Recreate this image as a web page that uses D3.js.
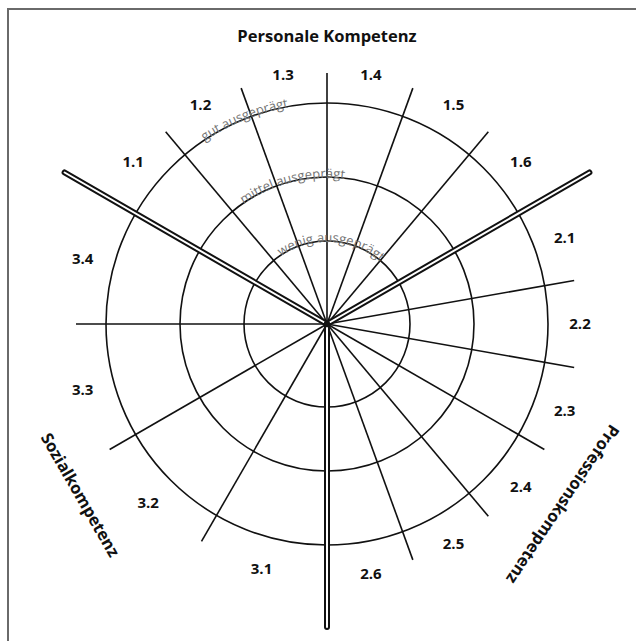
<!DOCTYPE html>
<html>
<head>
<meta charset="utf-8">
<script src="https://cdn.jsdelivr.net/npm/d3@7/dist/d3.min.js"></script>
<style>
  html, body { margin: 0; padding: 0; background: #fff; }
  svg { display: block; font-family: "Open Sans", "DejaVu Sans", sans-serif; }
</style>
</head>
<body>
<svg id="chart" width="636" height="641"></svg>
<script>
'use strict';

// ── Data ───────────────────────────────────────────────────────────────────
const groupTitles     = ['Personale Kompetenz', 'Professionskompetenz', 'Sozialkompetenz'];
const personalItems   = ['1.1', '1.2', '1.3', '1.4', '1.5', '1.6'];
const professionItems = ['2.1', '2.2', '2.3', '2.4', '2.5', '2.6'];
const socialItems     = ['3.1', '3.2', '3.3', '3.4'];
const levelNames      = ['wenig ausgeprägt', 'mittel ausgeprägt', 'gut ausgeprägt'];
const levelValues     = [1, 2, 3];

// ── Layout ─────────────────────────────────────────────────────────────────
const W = 636, H = 641;
const cx = 327, cy = 324;
const sectorStart = [-60, 60, 180];            // compass degrees, clockwise
const sectorSpan  = 120;
const spokeLen    = 251;
const dividerLen  = 303;
const labelR      = 253;
const levelLabelAngle = [3, -14, -22];         // centre of the curved ring captions
const titleR      = [288, 297, 300];
const titleAngle  = [0, 127.4, -124.7];
const titleRotate = [0, 124, 60];

const sectors = [personalItems, professionItems, socialItems];

const r = d3.scaleLinear().domain(levelValues).range([83, 147, 221]);

const rad = a => a * Math.PI / 180;
const px = (a, rr) => cx + rr * Math.sin(rad(a));
const py = (a, rr) => cy - rr * Math.cos(rad(a));

// angle scale per sector: index → compass angle
const angleScales = sectors.map((items, s) =>
  d3.scaleLinear().domain([0, items.length]).range([sectorStart[s], sectorStart[s] + sectorSpan]));

const spokes = [], labels = [];
sectors.forEach((items, s) => {
  const a = angleScales[s];
  items.forEach((name, i) => {
    labels.push({ name, angle: a(i + 0.5) });
    if (i > 0) spokes.push(a(i));
  });
});

const svg = d3.select('#chart');

// frame (left + top edges visible)
svg.append('path')
  .attr('d', `M8,${H} V9 H${W}`)
  .attr('fill', 'none')
  .attr('stroke', '#6a6a6a')
  .attr('stroke-width', 2);

const g = svg.append('g');

// ── Rings ──────────────────────────────────────────────────────────────────
g.selectAll('circle.ring')
  .data(levelValues)
  .join('circle')
  .attr('class', 'ring')
  .attr('cx', cx).attr('cy', cy)
  .attr('r', d => r(d))
  .attr('fill', 'none')
  .attr('stroke', '#111')
  .attr('stroke-width', 1.6);

// ── Spokes ─────────────────────────────────────────────────────────────────
g.selectAll('line.spoke')
  .data(spokes)
  .join('line')
  .attr('class', 'spoke')
  .attr('x1', cx).attr('y1', cy)
  .attr('x2', d => px(d, spokeLen))
  .attr('y2', d => py(d, spokeLen))
  .attr('stroke', '#111')
  .attr('stroke-width', 1.6);

// ── Sector dividers (double lines) ─────────────────────────────────────────
const dividers = g.selectAll('g.divider')
  .data(sectorStart)
  .join('g')
  .attr('class', 'divider');

dividers.append('line')
  .attr('x1', cx).attr('y1', cy)
  .attr('x2', d => px(d, dividerLen))
  .attr('y2', d => py(d, dividerLen))
  .attr('stroke', '#111')
  .attr('stroke-width', 6)
  .attr('stroke-linecap', 'round');

dividers.append('line')
  .attr('x1', d => px(d, 4)).attr('y1', d => py(d, 4))
  .attr('x2', d => px(d, dividerLen))
  .attr('y2', d => py(d, dividerLen))
  .attr('stroke', '#fff')
  .attr('stroke-width', 2)
  .attr('stroke-linecap', 'round');

// ── Ring captions on curved paths ──────────────────────────────────────────
const defs = svg.append('defs');
const captionR = v => r(v) - 1;
levelValues.forEach((v, i) => {
  const rr = captionR(v);
  defs.append('path')
    .attr('id', 'ringpath' + i)
    .attr('d', `M${cx - rr},${cy} A${rr},${rr} 0 0 1 ${cx + rr},${cy}`);
});

g.selectAll('text.level')
  .data(levelValues)
  .join('text')
  .attr('class', 'level')
  .attr('font-size', '13px')
  .attr('fill', '#747474')
  .append('textPath')
  .attr('href', (d, i) => '#ringpath' + i)
  .attr('text-anchor', 'middle')
  .attr('startOffset', (d, i) => (levelLabelAngle[i] + 90) * Math.PI / 180 * captionR(d))
  .text((d, i) => levelNames[i]);

// ── Item labels ────────────────────────────────────────────────────────────
g.selectAll('text.item')
  .data(labels)
  .join('text')
  .attr('class', 'item')
  .attr('x', d => px(d.angle, labelR))
  .attr('y', d => py(d.angle, labelR))
  .attr('dy', '0.36em')
  .attr('text-anchor', 'middle')
  .attr('font-size', '15px')
  .attr('font-weight', 700)
  .attr('fill', '#111')
  .text(d => d.name);

// ── Group titles ───────────────────────────────────────────────────────────
g.selectAll('text.group')
  .data(groupTitles)
  .join('text')
  .attr('class', 'group')
  .attr('transform', (d, i) =>
    `translate(${px(titleAngle[i], titleR[i])},${py(titleAngle[i], titleR[i])}) rotate(${titleRotate[i]})`)
  .attr('dy', '0.36em')
  .attr('text-anchor', 'middle')
  .attr('font-size', '16.5px')
  .attr('font-weight', 700)
  .attr('fill', '#111')
  .text(d => d);
</script>
</body>
</html>
